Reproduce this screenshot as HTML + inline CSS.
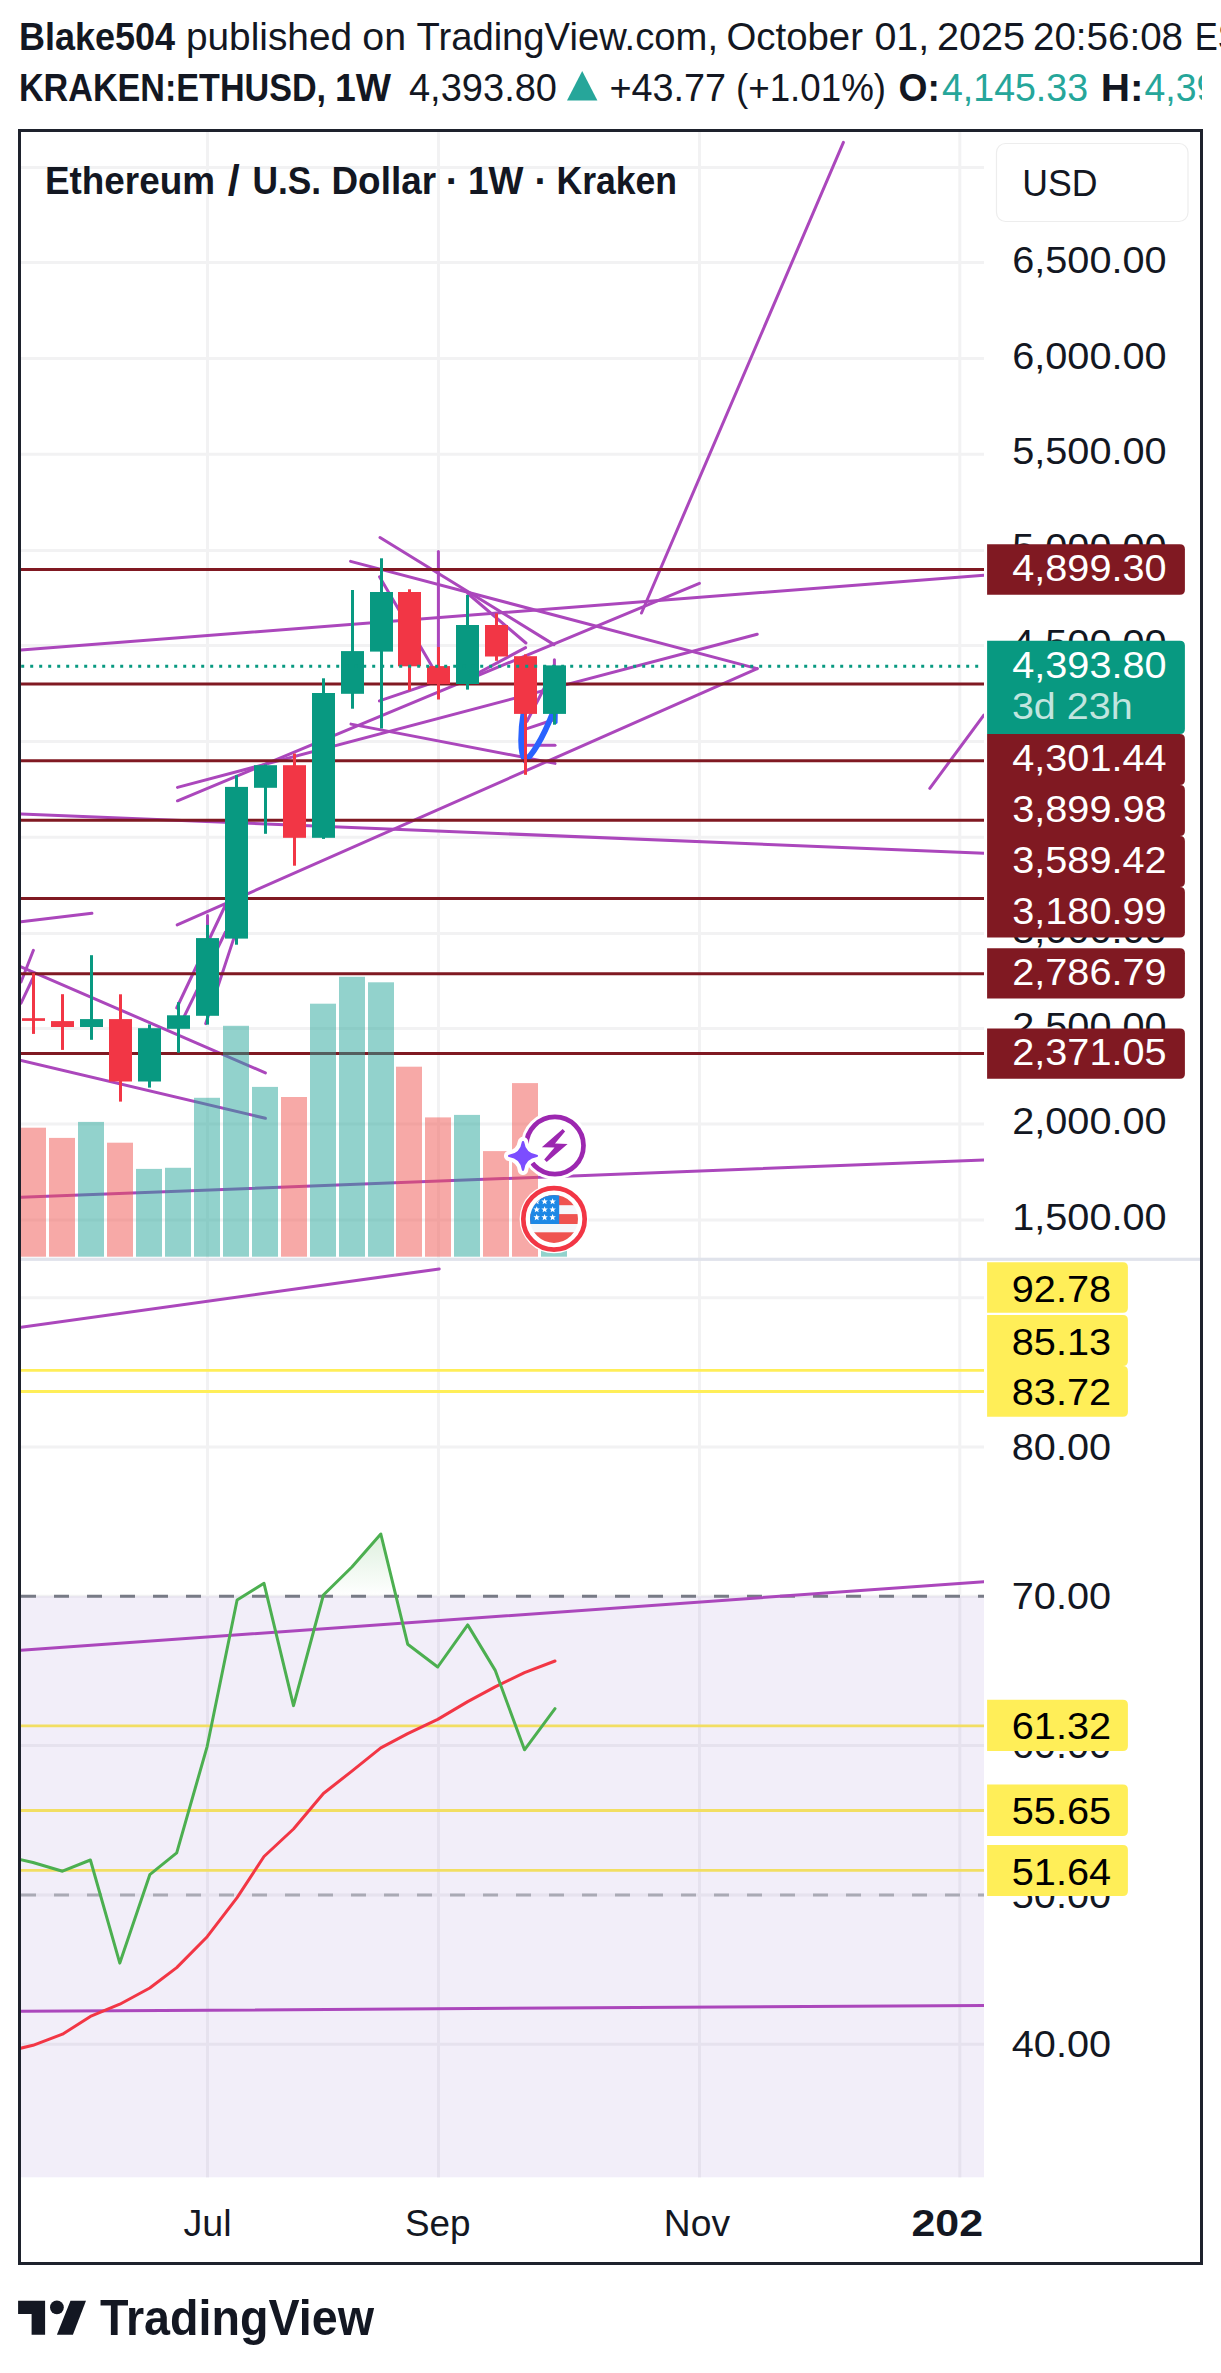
<!DOCTYPE html>
<html lang="en"><head><meta charset="utf-8"><title>ETHUSD 1W chart by Blake504 - TradingView</title>
<style>html,body{margin:0;padding:0;background:#fff}body{width:1221px;height:2373px;overflow:hidden}svg{display:block}</style>
</head><body>
<svg width="1221" height="2373" viewBox="0 0 1221 2373" font-family='"Liberation Sans", sans-serif'>
<defs>
<clipPath id="cm"><rect x="21.0" y="132" width="963.0" height="1125.7"/></clipPath>
<clipPath id="cr"><rect x="21.0" y="1261" width="963.0" height="916.6"/></clipPath>
<clipPath id="ct"><rect x="21.0" y="2178" width="963.0" height="83"/></clipPath>
<clipPath id="ch1"><rect x="0" y="0" width="1221" height="62"/></clipPath>
<clipPath id="ch2"><rect x="0" y="62" width="1202" height="62"/></clipPath>
<clipPath id="cflag"><circle cx="554.0" cy="1218.9" r="24"/></clipPath>
<linearGradient id="gfill" gradientUnits="userSpaceOnUse" x1="0" y1="1530" x2="0" y2="1596"><stop offset="0" stop-color="#4CAF50" stop-opacity="0.2"/><stop offset="1" stop-color="#4CAF50" stop-opacity="0"/></linearGradient>
</defs>
<rect width="1221" height="2373" fill="#fff"/>
<g clip-path="url(#ch1)">
<text x="18.97" y="50.0" font-size="39" fill="#131722" font-weight="bold" textLength="156.03" lengthAdjust="spacingAndGlyphs" >Blake504</text>
<text x="185.94" y="50.0" font-size="39" fill="#131722" textLength="166.11" lengthAdjust="spacingAndGlyphs" >published</text>
<text x="362.35" y="50.0" font-size="39" fill="#131722" textLength="43.82" lengthAdjust="spacingAndGlyphs" >on</text>
<text x="416.49" y="50.0" font-size="39" fill="#131722" textLength="301.55" lengthAdjust="spacingAndGlyphs" >TradingView.com,</text>
<text x="726.47" y="50.0" font-size="39" fill="#131722" textLength="136.53" lengthAdjust="spacingAndGlyphs" >October</text>
<text x="874.44" y="50.0" font-size="39" fill="#131722" textLength="54.81" lengthAdjust="spacingAndGlyphs" >01,</text>
<text x="936.91" y="50.0" font-size="39" fill="#131722" textLength="88.15" lengthAdjust="spacingAndGlyphs" >2025</text>
<text x="1032.97" y="50.0" font-size="39" fill="#131722" textLength="150.05" lengthAdjust="spacingAndGlyphs" >20:56:08</text>
<text x="1194.8" y="50.0" font-size="39" fill="#131722" textLength="67.2" lengthAdjust="spacingAndGlyphs" >EST</text>
</g>
<g clip-path="url(#ch2)">
<text x="18.97" y="101.0" font-size="39" fill="#131722" font-weight="bold" textLength="307.06" lengthAdjust="spacingAndGlyphs" >KRAKEN:ETHUSD,</text>
<text x="334.92" y="101.0" font-size="39" fill="#131722" font-weight="bold" textLength="56.06" lengthAdjust="spacingAndGlyphs" >1W</text>
<text x="408.98" y="101.0" font-size="39" fill="#131722" textLength="148.03" lengthAdjust="spacingAndGlyphs" >4,393.80</text>
<text x="609.46" y="101.0" font-size="39" fill="#131722" textLength="116.57" lengthAdjust="spacingAndGlyphs" >+43.77</text>
<text x="735.94" y="101.0" font-size="39" fill="#131722" textLength="150.12" lengthAdjust="spacingAndGlyphs" >(+1.01%)</text>
<text x="898.41" y="101.0" font-size="39" fill="#131722" font-weight="bold" textLength="41.4" lengthAdjust="spacingAndGlyphs" >O:</text>
<text x="942.0" y="101.0" font-size="39" fill="#26A69A" textLength="146.02" lengthAdjust="spacingAndGlyphs" >4,145.33</text>
<text x="1100.66" y="101.0" font-size="39" fill="#131722" font-weight="bold" textLength="42.8" lengthAdjust="spacingAndGlyphs" >H:</text>
<text x="1144.5" y="101.0" font-size="39" fill="#26A69A" textLength="145.5" lengthAdjust="spacingAndGlyphs" >4,398.36</text>
</g>
<polygon points="567,100.6 597.4,100.6 582.2,71.0" fill="#26A69A"/>
<g stroke="#F2F2F3" stroke-width="3" fill="none">
<line x1="21.0" y1="167.5" x2="984.0" y2="167.5"/>
<line x1="21.0" y1="262.5" x2="984.0" y2="262.5"/>
<line x1="21.0" y1="358.4" x2="984.0" y2="358.4"/>
<line x1="21.0" y1="454.2" x2="984.0" y2="454.2"/>
<line x1="21.0" y1="550.5" x2="984.0" y2="550.5"/>
<line x1="21.0" y1="645.5" x2="984.0" y2="645.5"/>
<line x1="21.0" y1="741.4" x2="984.0" y2="741.4"/>
<line x1="21.0" y1="837.3" x2="984.0" y2="837.3"/>
<line x1="21.0" y1="933.4" x2="984.0" y2="933.4"/>
<line x1="21.0" y1="1028.6" x2="984.0" y2="1028.6"/>
<line x1="21.0" y1="1124.1" x2="984.0" y2="1124.1"/>
<line x1="21.0" y1="1220.0" x2="984.0" y2="1220.0"/>
<line x1="21.0" y1="1297.7" x2="984.0" y2="1297.7"/>
<line x1="21.0" y1="1447.0" x2="984.0" y2="1447.0"/>
<line x1="21.0" y1="1596.3" x2="984.0" y2="1596.3"/>
<line x1="21.0" y1="1745.6" x2="984.0" y2="1745.6"/>
<line x1="21.0" y1="1894.9" x2="984.0" y2="1894.9"/>
<line x1="21.0" y1="2044.2" x2="984.0" y2="2044.2"/>
<line x1="207.5" y1="132" x2="207.5" y2="2177.6"/>
<line x1="438.5" y1="132" x2="438.5" y2="2177.6"/>
<line x1="699.5" y1="132" x2="699.5" y2="2177.6"/>
<line x1="959.8" y1="132" x2="959.8" y2="2177.6"/>
</g>
<g clip-path="url(#cm)">
<g stroke="#AB47BC" stroke-width="3" stroke-linecap="round" fill="none">
<line x1="21" y1="650" x2="984" y2="575.2"/>
<line x1="21" y1="814" x2="984" y2="853.3"/>
<line x1="641.5" y1="613" x2="843.4" y2="142.4"/>
<line x1="177.5" y1="800.8" x2="699.4" y2="583.3"/>
<line x1="177.5" y1="787.4" x2="757.2" y2="634.2"/>
<line x1="177.2" y1="924.9" x2="757.2" y2="668.6"/>
<line x1="380" y1="537.5" x2="554" y2="644.6"/>
<line x1="350.6" y1="561.4" x2="757.2" y2="668.6"/>
<line x1="351" y1="724.1" x2="555" y2="763.4"/>
<line x1="379.5" y1="576.7" x2="433" y2="668"/>
<line x1="467.8" y1="593.5" x2="525.9" y2="643"/>
<line x1="527.4" y1="745.3" x2="555" y2="745.3"/>
<line x1="929.8" y1="788.3" x2="984" y2="715"/>
<line x1="21" y1="921.8" x2="91.9" y2="913.3"/>
<line x1="21" y1="966.8" x2="265.4" y2="1072.9"/>
<line x1="21" y1="1060.4" x2="265.4" y2="1118.3"/>
<line x1="21" y1="982" x2="33.4" y2="950.3"/>
<line x1="21" y1="1003.2" x2="33" y2="978"/>
<line x1="21" y1="1197.3" x2="984" y2="1160"/>
<line x1="176.7" y1="1008" x2="225" y2="906"/>
<line x1="180" y1="1025" x2="225.5" y2="932"/>
<line x1="205.7" y1="1023.6" x2="236" y2="931.6"/>
<line x1="438.4" y1="551.4" x2="438.4" y2="660"/>
<line x1="379.4" y1="700.9" x2="438.5" y2="680.8"/>
<line x1="458" y1="683.8" x2="525.6" y2="647.6"/>
<line x1="527" y1="728.6" x2="553" y2="720"/>
<line x1="527" y1="721.2" x2="551" y2="675"/>
<line x1="207.5" y1="915.5" x2="207.5" y2="930"/>
<line x1="554.4" y1="659.8" x2="554.4" y2="668"/>
</g>
<path d="M523.6,712 C520.6,730 519.6,753 525,760 C531,757.5 542,740 553.2,712" stroke="#2962FF" stroke-width="5.8" fill="none" stroke-linecap="round"/>
<path d="M556.3,712 L556.1,722.5" stroke="#2962FF" stroke-width="3" fill="none" stroke-linecap="round"/>
<g stroke="#801922" stroke-width="3">
<line x1="21.0" y1="569.6" x2="984.0" y2="569.6"/>
<line x1="21.0" y1="684.0" x2="984.0" y2="684.0"/>
<line x1="21.0" y1="760.8" x2="984.0" y2="760.8"/>
<line x1="21.0" y1="820.2" x2="984.0" y2="820.2"/>
<line x1="21.0" y1="898.4" x2="984.0" y2="898.4"/>
<line x1="21.0" y1="973.8" x2="984.0" y2="973.8"/>
<line x1="21.0" y1="1053.4" x2="984.0" y2="1053.4"/>
</g>
<rect x="20.0" y="1127.7" width="26" height="129.0" fill="rgba(239,83,80,0.5)"/>
<rect x="49.0" y="1137.9" width="26" height="118.8" fill="rgba(239,83,80,0.5)"/>
<rect x="78.0" y="1121.9" width="26" height="134.8" fill="rgba(38,166,154,0.5)"/>
<rect x="107.0" y="1142.7" width="26" height="114.0" fill="rgba(239,83,80,0.5)"/>
<rect x="136.0" y="1168.9" width="26" height="87.8" fill="rgba(38,166,154,0.5)"/>
<rect x="165.0" y="1167.8" width="26" height="88.9" fill="rgba(38,166,154,0.5)"/>
<rect x="194.0" y="1097.8" width="26" height="158.9" fill="rgba(38,166,154,0.5)"/>
<rect x="223.0" y="1025.8" width="26" height="230.9" fill="rgba(38,166,154,0.5)"/>
<rect x="252.0" y="1086.9" width="26" height="169.8" fill="rgba(38,166,154,0.5)"/>
<rect x="281.0" y="1097" width="26" height="159.7" fill="rgba(239,83,80,0.5)"/>
<rect x="310.0" y="1003.7" width="26" height="253.0" fill="rgba(38,166,154,0.5)"/>
<rect x="339.0" y="976.8" width="26" height="279.9" fill="rgba(38,166,154,0.5)"/>
<rect x="368.0" y="982.3" width="26" height="274.4" fill="rgba(38,166,154,0.5)"/>
<rect x="396.0" y="1066.7" width="26" height="190.0" fill="rgba(239,83,80,0.5)"/>
<rect x="425.0" y="1117.4" width="26" height="139.3" fill="rgba(239,83,80,0.5)"/>
<rect x="454.0" y="1114.9" width="26" height="141.8" fill="rgba(38,166,154,0.5)"/>
<rect x="483.0" y="1151.1" width="26" height="105.6" fill="rgba(239,83,80,0.5)"/>
<rect x="512.0" y="1083.1" width="26" height="173.6" fill="rgba(239,83,80,0.5)"/>
<rect x="541.0" y="1236" width="26" height="20.7" fill="rgba(38,166,154,0.5)"/>
<rect x="32.0" y="973.2" width="3" height="60.7" fill="#F23645"/>
<rect x="22.0" y="1018.2" width="23" height="2.7" fill="#F23645"/>
<rect x="61.0" y="994.2" width="3" height="55.7" fill="#F23645"/>
<rect x="51.0" y="1021.1" width="23" height="5.9" fill="#F23645"/>
<rect x="90.0" y="955.2" width="3" height="84.6" fill="#089981"/>
<rect x="80.0" y="1019.1" width="23" height="7.9" fill="#089981"/>
<rect x="119.0" y="994.3" width="3" height="107.3" fill="#F23645"/>
<rect x="109.0" y="1019.1" width="23" height="62.4" fill="#F23645"/>
<rect x="148.0" y="1024.5" width="3" height="63.1" fill="#089981"/>
<rect x="138.0" y="1028.2" width="23" height="53.3" fill="#089981"/>
<rect x="177.0" y="1002.2" width="3" height="50.5" fill="#089981"/>
<rect x="167.0" y="1015.3" width="23" height="13.5" fill="#089981"/>
<rect x="206.0" y="924.9" width="3" height="99.7" fill="#089981"/>
<rect x="196.0" y="938.1" width="23" height="77.7" fill="#089981"/>
<rect x="235.0" y="775.2" width="3" height="169.5" fill="#089981"/>
<rect x="225.0" y="786.9" width="23" height="151.7" fill="#089981"/>
<rect x="264.0" y="764.5" width="3" height="69.3" fill="#089981"/>
<rect x="254.0" y="765.2" width="23" height="22.6" fill="#089981"/>
<rect x="293.0" y="753.5" width="3" height="112.2" fill="#F23645"/>
<rect x="283.0" y="765.2" width="23" height="72.6" fill="#F23645"/>
<rect x="322.0" y="678.3" width="3" height="160.6" fill="#089981"/>
<rect x="312.0" y="693.0" width="23" height="144.8" fill="#089981"/>
<rect x="351.0" y="590.0" width="3" height="118.7" fill="#089981"/>
<rect x="341.0" y="651.1" width="23" height="42.7" fill="#089981"/>
<rect x="380.0" y="558.3" width="3" height="170.2" fill="#089981"/>
<rect x="370.0" y="592.0" width="23" height="59.6" fill="#089981"/>
<rect x="408.0" y="589.3" width="3" height="101.1" fill="#F23645"/>
<rect x="398.0" y="592.0" width="23" height="74.3" fill="#F23645"/>
<rect x="437.0" y="647.0" width="3" height="52.5" fill="#F23645"/>
<rect x="427.0" y="666.1" width="23" height="17.9" fill="#F23645"/>
<rect x="466.0" y="595.0" width="3" height="94.6" fill="#089981"/>
<rect x="456.0" y="625.0" width="23" height="59.0" fill="#089981"/>
<rect x="495.0" y="613.4" width="3" height="47.4" fill="#F23645"/>
<rect x="485.0" y="625.0" width="23" height="31.5" fill="#F23645"/>
<rect x="524.0" y="654.4" width="3" height="120.4" fill="#F23645"/>
<rect x="514.0" y="656.2" width="23" height="57.7" fill="#F23645"/>
<rect x="553.0" y="665.4" width="3" height="59.3" fill="#089981"/>
<rect x="543.0" y="665.4" width="23" height="48.5" fill="#089981"/>
<line x1="21.0" y1="666.3" x2="980" y2="666.3" stroke="#089981" stroke-width="3" stroke-dasharray="3 6" stroke-dashoffset="-0.2"/>
</g>
<rect x="21.0" y="1257.7" width="1179.5" height="3.2" fill="#E0E3EB"/>
<g>
<circle cx="554.9" cy="1145.5" r="34" fill="#fff"/>
<circle cx="554.9" cy="1145.5" r="28.6" fill="#fff" stroke="#9C27B0" stroke-width="4.7"/>
<polygon points="562.7,1129.0 541.8,1147.2 554.5,1147.6 544.2,1159.5 546.7,1161.9 567.6,1144.1 555.0,1143.5 565.1,1131.4" fill="#9C27B0"/>
<path d="M523.0,1142.1 Q524.7,1154.2 536.8,1155.9 Q524.7,1157.6 523.0,1169.7 Q521.3,1157.6 509.2,1155.9 Q521.3,1154.2 523.0,1142.1 Z" fill="#fff" stroke="#fff" stroke-width="10.5" stroke-linejoin="round"/>
<path d="M523.0,1142.1 Q524.7,1154.2 536.8,1155.9 Q524.7,1157.6 523.0,1169.7 Q521.3,1157.6 509.2,1155.9 Q521.3,1154.2 523.0,1142.1 Z" fill="#7C4DFF" stroke="#7C4DFF" stroke-width="2.4" stroke-linejoin="round"/>
</g>
<g>
<circle cx="554.0" cy="1218.9" r="34.4" fill="#fff"/>
<circle cx="554.0" cy="1218.9" r="30.7" fill="#fff" stroke="#F23645" stroke-width="4.7"/>
<g clip-path="url(#cflag)">
<rect x="528" y="1193" width="54" height="52" fill="#F5F7FA"/>
<rect x="528" y="1193" width="54" height="12.2" fill="#EF5350"/>
<rect x="528" y="1214.1" width="54" height="9.9" fill="#EF5350"/>
<rect x="528" y="1232.3" width="54" height="13.7" fill="#EF5350"/>
<rect x="528" y="1193" width="31.2" height="31.0" fill="#1E88E5"/>
<polygon points="536.70,1198.20 537.58,1200.39 539.93,1200.55 538.13,1202.06 538.70,1204.35 536.70,1203.10 534.70,1204.35 535.27,1202.06 533.47,1200.55 535.82,1200.39" fill="#fff"/>
<polygon points="536.70,1206.20 537.58,1208.39 539.93,1208.55 538.13,1210.06 538.70,1212.35 536.70,1211.10 534.70,1212.35 535.27,1210.06 533.47,1208.55 535.82,1208.39" fill="#fff"/>
<polygon points="536.70,1214.00 537.58,1216.19 539.93,1216.35 538.13,1217.86 538.70,1220.15 536.70,1218.90 534.70,1220.15 535.27,1217.86 533.47,1216.35 535.82,1216.19" fill="#fff"/>
<polygon points="544.60,1198.20 545.48,1200.39 547.83,1200.55 546.03,1202.06 546.60,1204.35 544.60,1203.10 542.60,1204.35 543.17,1202.06 541.37,1200.55 543.72,1200.39" fill="#fff"/>
<polygon points="544.60,1206.20 545.48,1208.39 547.83,1208.55 546.03,1210.06 546.60,1212.35 544.60,1211.10 542.60,1212.35 543.17,1210.06 541.37,1208.55 543.72,1208.39" fill="#fff"/>
<polygon points="544.60,1214.00 545.48,1216.19 547.83,1216.35 546.03,1217.86 546.60,1220.15 544.60,1218.90 542.60,1220.15 543.17,1217.86 541.37,1216.35 543.72,1216.19" fill="#fff"/>
<polygon points="552.60,1198.20 553.48,1200.39 555.83,1200.55 554.03,1202.06 554.60,1204.35 552.60,1203.10 550.60,1204.35 551.17,1202.06 549.37,1200.55 551.72,1200.39" fill="#fff"/>
<polygon points="552.60,1206.20 553.48,1208.39 555.83,1208.55 554.03,1210.06 554.60,1212.35 552.60,1211.10 550.60,1212.35 551.17,1210.06 549.37,1208.55 551.72,1208.39" fill="#fff"/>
<polygon points="552.60,1214.00 553.48,1216.19 555.83,1216.35 554.03,1217.86 554.60,1220.15 552.60,1218.90 550.60,1220.15 551.17,1217.86 549.37,1216.35 551.72,1216.19" fill="#fff"/>
</g></g>
<g clip-path="url(#cr)">
<g stroke="#FFEE58" stroke-width="2.8">
<line x1="21.0" y1="1370.4" x2="984.0" y2="1370.4"/>
<line x1="21.0" y1="1391.5" x2="984.0" y2="1391.5"/>
<line x1="21.0" y1="1725.9" x2="984.0" y2="1725.9"/>
<line x1="21.0" y1="1810.5" x2="984.0" y2="1810.5"/>
<line x1="21.0" y1="1870.4" x2="984.0" y2="1870.4"/>
</g>
<rect x="21.0" y="1596.3" width="963.0" height="581.3" fill="rgba(126,87,194,0.1)"/>
<line x1="21.0" y1="1596.3" x2="984.0" y2="1596.3" stroke="#787B86" stroke-width="3" stroke-dasharray="15 18"/>
<line x1="21.0" y1="1894.9" x2="984.0" y2="1894.9" stroke="#787B86" stroke-opacity="0.55" stroke-width="3" stroke-dasharray="15 18"/>
<g stroke="#AB47BC" stroke-width="3" stroke-linecap="round">
<line x1="21" y1="1327.3" x2="439.2" y2="1268.9"/>
<line x1="21" y1="1650.3" x2="984" y2="1581.8"/>
<line x1="21" y1="2011.3" x2="984" y2="2005.5"/>
</g>
<clipPath id="c70"><rect x="21.0" y="1261" width="963.0" height="335.3"/></clipPath>
<polygon clip-path="url(#c70)" points="4.5,1596.3 4.5,1856 33,1862.5 62.5,1871.2 90.4,1860 119.8,1963.1 149.8,1874.7 176.7,1852.9 207.2,1746.3 237.1,1600 264,1583.3 293.5,1705.6 323.4,1595 351.9,1567 380.8,1534 407.7,1644.2 437.7,1667 467.7,1624.9 495.1,1670.1 524.5,1749.8 555,1708.7 555,1596.3" fill="url(#gfill)"/>
<polyline points="4.5,2052 33,2045.3 62.5,2034.2 90.4,2016.4 119.8,2004.2 149.8,1988 176.7,1967.6 207.2,1936.7 237.1,1897.6 264,1856.5 293.5,1829 323.4,1793.5 351.9,1771.1 380.8,1747.8 407.7,1733.6 437.7,1719.4 467.7,1701.6 495.1,1686.9 524.5,1672.6 555,1661" fill="none" stroke="#F23645" stroke-width="3" stroke-linejoin="round" stroke-linecap="round"/>
<polyline points="4.5,1856 33,1862.5 62.5,1871.2 90.4,1860 119.8,1963.1 149.8,1874.7 176.7,1852.9 207.2,1746.3 237.1,1600 264,1583.3 293.5,1705.6 323.4,1595 351.9,1567 380.8,1534 407.7,1644.2 437.7,1667 467.7,1624.9 495.1,1670.1 524.5,1749.8 555,1708.7" fill="none" stroke="#4CAF50" stroke-width="3" stroke-linejoin="round" stroke-linecap="round"/>
</g>
<text x="1012.2" y="273.1" font-size="36" fill="#131722" textLength="154.4" lengthAdjust="spacingAndGlyphs" >6,500.00</text>
<text x="1012.2" y="368.8" font-size="36" fill="#131722" textLength="154.4" lengthAdjust="spacingAndGlyphs" >6,000.00</text>
<text x="1012.2" y="464.4" font-size="36" fill="#131722" textLength="154.4" lengthAdjust="spacingAndGlyphs" >5,500.00</text>
<text x="1012.2" y="560.1" font-size="36" fill="#131722" textLength="154.4" lengthAdjust="spacingAndGlyphs" >5,000.00</text>
<text x="1012.2" y="655.8" font-size="36" fill="#131722" textLength="154.4" lengthAdjust="spacingAndGlyphs" >4,500.00</text>
<text x="1012.2" y="751.5" font-size="36" fill="#131722" textLength="154.4" lengthAdjust="spacingAndGlyphs" >4,000.00</text>
<text x="1012.2" y="847.2" font-size="36" fill="#131722" textLength="154.4" lengthAdjust="spacingAndGlyphs" >3,500.00</text>
<text x="1012.2" y="942.8" font-size="36" fill="#131722" textLength="154.4" lengthAdjust="spacingAndGlyphs" >3,000.00</text>
<text x="1012.2" y="1038.5" font-size="36" fill="#131722" textLength="154.4" lengthAdjust="spacingAndGlyphs" >2,500.00</text>
<text x="1012.2" y="1134.2" font-size="36" fill="#131722" textLength="154.4" lengthAdjust="spacingAndGlyphs" >2,000.00</text>
<text x="1012.2" y="1229.9" font-size="36" fill="#131722" textLength="154.4" lengthAdjust="spacingAndGlyphs" >1,500.00</text>
<text x="1011.8" y="1459.8" font-size="36" fill="#131722" textLength="99.2" lengthAdjust="spacingAndGlyphs" >80.00</text>
<text x="1011.8" y="1609.1" font-size="36" fill="#131722" textLength="99.2" lengthAdjust="spacingAndGlyphs" >70.00</text>
<text x="1011.8" y="1758.4" font-size="36" fill="#131722" textLength="99.2" lengthAdjust="spacingAndGlyphs" >60.00</text>
<text x="1011.8" y="1907.7" font-size="36" fill="#131722" textLength="99.2" lengthAdjust="spacingAndGlyphs" >50.00</text>
<text x="1011.8" y="2057.0" font-size="36" fill="#131722" textLength="99.2" lengthAdjust="spacingAndGlyphs" >40.00</text>
<rect x="996.5" y="143.5" width="191.5" height="78" rx="9" fill="#fff" stroke="#EDEDED" stroke-width="1.2"/>
<text x="1022.37" y="196.3" font-size="36" fill="#131722" textLength="75.19" lengthAdjust="spacingAndGlyphs" >USD</text>
<path d="M987.1,544.2 H1179.9 Q1184.9,544.2 1184.9,549.2 V589.8 Q1184.9,594.8 1179.9,594.8 H987.1 Z" fill="#801922"/>
<text x="1012.2" y="581.2" font-size="36" fill="#fff" textLength="154.4" lengthAdjust="spacingAndGlyphs" >4,899.30</text>
<path d="M987.1,734 H1179.9 Q1184.9,734 1184.9,739 V780 Q1184.9,785 1179.9,785 H987.1 Z" fill="#801922"/>
<text x="1012.2" y="771.2" font-size="36" fill="#fff" textLength="154.4" lengthAdjust="spacingAndGlyphs" >4,301.44</text>
<path d="M987.1,785 H1179.9 Q1184.9,785 1184.9,790 V831 Q1184.9,836 1179.9,836 H987.1 Z" fill="#801922"/>
<text x="1012.2" y="822.2" font-size="36" fill="#fff" textLength="154.4" lengthAdjust="spacingAndGlyphs" >3,899.98</text>
<path d="M987.1,836 H1179.9 Q1184.9,836 1184.9,841 V882 Q1184.9,887 1179.9,887 H987.1 Z" fill="#801922"/>
<text x="1012.2" y="873.2" font-size="36" fill="#fff" textLength="154.4" lengthAdjust="spacingAndGlyphs" >3,589.42</text>
<path d="M987.1,887 H1179.9 Q1184.9,887 1184.9,892 V932.6 Q1184.9,937.6 1179.9,937.6 H987.1 Z" fill="#801922"/>
<text x="1012.2" y="924.0" font-size="36" fill="#fff" textLength="154.4" lengthAdjust="spacingAndGlyphs" >3,180.99</text>
<path d="M987.1,948.3 H1179.9 Q1184.9,948.3 1184.9,953.3 V993.5 Q1184.9,998.5 1179.9,998.5 H987.1 Z" fill="#801922"/>
<text x="1012.2" y="985.1" font-size="36" fill="#fff" textLength="154.4" lengthAdjust="spacingAndGlyphs" >2,786.79</text>
<path d="M987.1,1028.5 H1179.9 Q1184.9,1028.5 1184.9,1033.5 V1073.7 Q1184.9,1078.7 1179.9,1078.7 H987.1 Z" fill="#801922"/>
<text x="1012.2" y="1065.3" font-size="36" fill="#fff" textLength="154.4" lengthAdjust="spacingAndGlyphs" >2,371.05</text>
<path d="M987.1,640.8 H1179.9 Q1184.9,640.8 1184.9,645.8 V729 Q1184.9,734 1179.9,734 H987.1 Z" fill="#089981"/>
<text x="1012.2" y="677.5" font-size="36" fill="#fff" textLength="154.4" lengthAdjust="spacingAndGlyphs" >4,393.80</text>
<text x="1011.94" y="719.4" font-size="36" fill="rgba(255,255,255,0.75)" textLength="120.63" lengthAdjust="spacingAndGlyphs" >3d 23h</text>
<path d="M987.1,1262.3 H1122.9 Q1127.9,1262.3 1127.9,1267.3 V1307.8 Q1127.9,1312.8 1122.9,1312.8 H987.1 Z" fill="#FFEE58"/>
<text x="1011.8" y="1301.5" font-size="36" fill="#000" textLength="99.2" lengthAdjust="spacingAndGlyphs" >92.78</text>
<path d="M987.1,1314.9 H1122.9 Q1127.9,1314.9 1127.9,1319.9 V1361 Q1127.9,1366 1122.9,1366 H987.1 Z" fill="#FFEE58"/>
<text x="1011.8" y="1354.5" font-size="36" fill="#000" textLength="99.2" lengthAdjust="spacingAndGlyphs" >85.13</text>
<path d="M987.1,1366 H1122.9 Q1127.9,1366 1127.9,1371 V1411.7 Q1127.9,1416.7 1122.9,1416.7 H987.1 Z" fill="#FFEE58"/>
<text x="1011.8" y="1405.3" font-size="36" fill="#000" textLength="99.2" lengthAdjust="spacingAndGlyphs" >83.72</text>
<path d="M987.1,1699.7 H1122.9 Q1127.9,1699.7 1127.9,1704.7 V1746 Q1127.9,1751 1122.9,1751 H987.1 Z" fill="#FFEE58"/>
<text x="1011.8" y="1739.3" font-size="36" fill="#000" textLength="99.2" lengthAdjust="spacingAndGlyphs" >61.32</text>
<path d="M987.1,1784.6 H1122.9 Q1127.9,1784.6 1127.9,1789.6 V1830.9 Q1127.9,1835.9 1122.9,1835.9 H987.1 Z" fill="#FFEE58"/>
<text x="1011.8" y="1824.2" font-size="36" fill="#000" textLength="99.2" lengthAdjust="spacingAndGlyphs" >55.65</text>
<path d="M987.1,1845.1 H1122.9 Q1127.9,1845.1 1127.9,1850.1 V1891.1 Q1127.9,1896.1 1122.9,1896.1 H987.1 Z" fill="#FFEE58"/>
<text x="1011.8" y="1884.6" font-size="36" fill="#000" textLength="99.2" lengthAdjust="spacingAndGlyphs" >51.64</text>
<text x="44.95" y="193.8" font-size="39" fill="#131722" font-weight="bold" textLength="170.08" lengthAdjust="spacingAndGlyphs" >Ethereum</text>
<text x="252.41" y="193.8" font-size="39" fill="#131722" font-weight="bold" textLength="68.68" lengthAdjust="spacingAndGlyphs" >U.S.</text>
<text x="331.47" y="193.8" font-size="39" fill="#131722" font-weight="bold" textLength="104.53" lengthAdjust="spacingAndGlyphs" >Dollar</text>
<text x="467.96" y="193.8" font-size="39" fill="#131722" font-weight="bold" textLength="55.54" lengthAdjust="spacingAndGlyphs" >1W</text>
<text x="556.44" y="193.8" font-size="39" fill="#131722" font-weight="bold" textLength="120.63" lengthAdjust="spacingAndGlyphs" >Kraken</text>
<text x="233.7" y="195.3" font-size="43" fill="#131722" font-weight="bold" text-anchor="middle" >/</text>
<text x="452.3" y="193.8" font-size="39" fill="#131722" font-weight="bold" text-anchor="middle" >·</text>
<text x="541.0" y="193.8" font-size="39" fill="#131722" font-weight="bold" text-anchor="middle" >·</text>
<text x="183.46" y="2235.9" font-size="36" fill="#131722" textLength="48.17" lengthAdjust="spacingAndGlyphs" >Jul</text>
<text x="404.93" y="2235.9" font-size="36" fill="#131722" textLength="65.59" lengthAdjust="spacingAndGlyphs" >Sep</text>
<text x="663.87" y="2235.9" font-size="36" fill="#131722" textLength="66.13" lengthAdjust="spacingAndGlyphs" >Nov</text>
<g clip-path="url(#ct)">
<text x="911.47" y="2235.9" font-size="36" fill="#131722" font-weight="bold" textLength="95.44" lengthAdjust="spacingAndGlyphs" >2026</text>
</g>
<rect x="19.5" y="130.5" width="1182" height="2133" fill="none" stroke="#1E222D" stroke-width="3"/>
<g fill="#131722">
<path d="M18.1,2300.7 H45.1 V2334.8 H31.6 V2314.1 H18.1 Z"/>
<circle cx="56.9" cy="2307.4" r="6.9"/>
<path d="M70.5,2300.7 H86 L72.9,2334.8 H56.9 Z"/>
</g>
<text x="100.0" y="2334.8" font-size="49.5" fill="#131722" font-weight="bold" textLength="274.01" lengthAdjust="spacingAndGlyphs" >TradingView</text>
</svg>
</body></html>
